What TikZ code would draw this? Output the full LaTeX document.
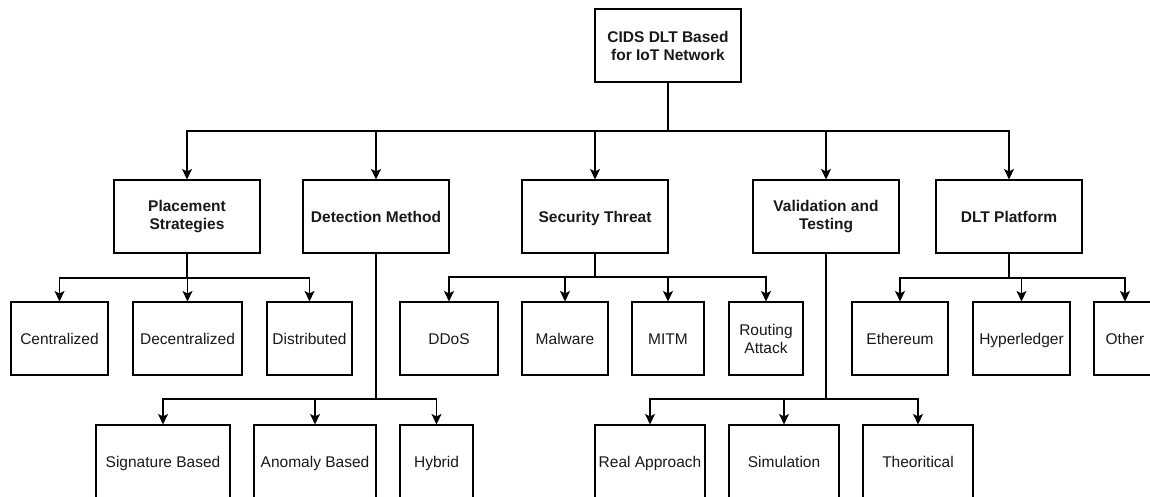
\documentclass[tikz,border=0pt]{standalone}
\usepackage{fontspec}
\setmainfont{Liberation Sans}
\usetikzlibrary{arrows.meta}
\tikzset{
  box/.style={draw, line width=1.1pt, minimum height=73pt, inner sep=2pt, align=center,
              font=\fontsize{15.5}{18}\selectfont, text=black!90},
  one/.style={text height=12pt, text depth=1pt},
  bbox/.style={box, font=\fontsize{15.5}{18}\selectfont\bfseries},
  conn/.style={line width=1.1pt},
  arr/.style={conn, -{Stealth[length=10.5pt,width=10pt,inset=2.5pt]}}
}
\begin{document}
\begin{tikzpicture}[x=1pt,y=-1pt]
\useasboundingbox (0,0) rectangle (1150,497);
\fill[white] (0,0) rectangle (1150,497);
\clip (0,0) rectangle (1150,497);
% root
\node[bbox, minimum width=146pt] (root) at (668,45.5) {CIDS DLT Based\\for IoT Network};
% level 2
\node[bbox, minimum width=146pt] (place) at (187,216.5) {Placement\\Strategies};
\node[bbox, one, minimum width=146pt] (detect) at (376,216.5) {Detection Method};
\node[bbox, one, minimum width=146pt] (sec) at (595,216.5) {Security Threat};
\node[bbox, minimum width=146pt] (valid) at (826,216.5) {Validation and\\Testing};
\node[bbox, one, minimum width=146pt] (dlt) at (1009,216.5) {DLT Platform};
% level 3
\node[box, one, minimum width=97pt] (cent) at (59.5,338.5) {Centralized};
\node[box, one, minimum width=109pt] (decent) at (187.5,338.5) {Decentralized};
\node[box, one, minimum width=85pt] (dist) at (309.5,338.5) {Distributed};
\node[box, one, minimum width=98pt] (ddos) at (449,338.5) {DDoS};
\node[box, one, minimum width=86pt] (mal) at (565,338.5) {Malware};
\node[box, one, minimum width=72pt] (mitm) at (668,338.5) {MITM};
\node[box, minimum width=74pt] (rout) at (766,338.5) {Routing\\Attack};
\node[box, one, minimum width=96pt] (eth) at (900,338.5) {Ethereum};
\node[box, one, minimum width=97pt] (hyp) at (1021.5,338.5) {Hyperledger};
\node[box, one, minimum width=62pt] (oth) at (1125,338.5) {Other};
% level 4
\node[box, one, minimum width=134pt] (sig) at (163,461.5) {Signature Based};
\node[box, one, minimum width=122pt] (ano) at (315,461.5) {Anomaly Based};
\node[box, one, minimum width=73pt] (hyb) at (436.5,461.5) {Hybrid};
\node[box, one, minimum width=110pt] (real) at (650,461.5) {Real Approach};
\node[box, one, minimum width=110pt] (sim) at (784,461.5) {Simulation};
\node[box, one, minimum width=110pt] (theo) at (918,461.5) {Theoritical};
% junctions
\coordinate (j0) at (668,131);
\coordinate (jp) at (187,278);
\coordinate (js) at (595,277);
\coordinate (jd) at (1009,278);
\coordinate (jm) at (376,399);
\coordinate (jv) at (826,399);
% connectors
\draw[conn] (root.south) -- (j0);
\foreach \n in {place,detect,sec,valid,dlt} \draw[arr] (j0) -| (\n.north);
\draw[conn] (place.south) -- (jp);
\foreach \n in {cent,decent,dist} \draw[arr] (jp) -| (\n.north);
\draw[conn] (sec.south) -- (js);
\foreach \n in {ddos,mal,mitm,rout} \draw[arr] (js) -| (\n.north);
\draw[conn] (dlt.south) -- (jd);
\foreach \n in {eth,hyp,oth} \draw[arr] (jd) -| (\n.north);
\draw[conn] (detect.south) -- (jm);
\foreach \n in {sig,ano,hyb} \draw[arr] (jm) -| (\n.north);
\draw[conn] (valid.south) -- (jv);
\foreach \n in {real,sim,theo} \draw[arr] (jv) -| (\n.north);
\end{tikzpicture}
\end{document}
